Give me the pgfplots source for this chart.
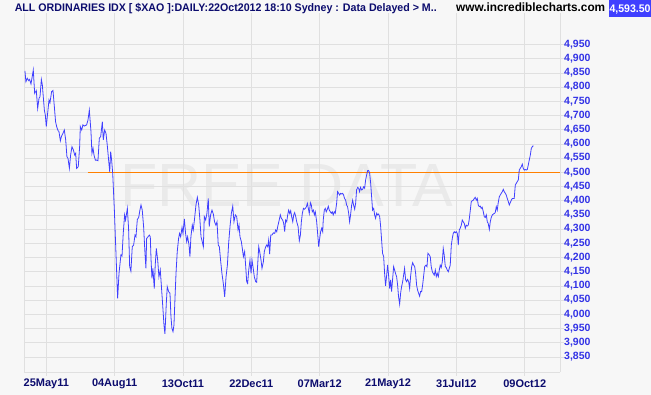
\documentclass[border=0pt]{standalone}
\usepackage{fontspec}
\setmainfont{Liberation Sans}
\usepackage{graphicx}
\usepackage{pgfplots}
\pgfplotsset{compat=1.18}

\definecolor{bg}{RGB}{247,247,247}
\definecolor{gridc}{RGB}{224,224,224}
\definecolor{navy}{RGB}{12,12,110}
\definecolor{ylab}{RGB}{50,50,230}
\definecolor{linec}{RGB}{64,64,255}
\definecolor{orangec}{RGB}{255,128,0}
\definecolor{boxc}{RGB}{64,64,255}
\definecolor{wm}{RGB}{234,234,234}

\begin{document}
\begin{tikzpicture}[x=1pt,y=1pt]
\fill[bg] (0,0) rectangle (651,395);
\useasboundingbox (0,0) rectangle (651,395);
\node[anchor=base west, inner sep=0, text=navy, font=\bfseries\fontsize{11}{13}\selectfont] at (14.6,383)
  {\resizebox{422pt}{\height}{ALL ORDINARIES IDX [ \$XAO ]:DAILY:22Oct2012 18:10 Sydney : Data Delayed > M..}};
\node[anchor=base west, inner sep=0, text=black, font=\bfseries\fontsize{12}{14}\selectfont] at (456,383)
  {\resizebox{149pt}{\height}{www.incrediblecharts.com}};
\fill[boxc] (608.5,377.5) rectangle (651,395);
\node[anchor=base, inner sep=0, text=white, font=\bfseries\fontsize{11}{13}\selectfont] at (630,382)
  {\resizebox{41pt}{\height}{4,593.50}};
\node[anchor=base west, inner sep=0, text=wm, font=\fontsize{61}{61}\selectfont] at (120,188.3) {FREE DATA};
\begin{axis}[
  at={(24pt,23pt)}, anchor=south west,
  scale only axis, width=536pt, height=359pt,
  xmin=-16.3, xmax=375.8, ymin=3797, ymax=5061,
  axis x line=bottom, axis y line=box,
  axis line style={-, draw=gridc, line width=0.8pt},
  ytick pos=right,
  xtick={0,50,...,350},
  xticklabels={25May11,04Aug11,13Oct11,22Dec11,07Mar12,21May12,31Jul12,09Oct12},
  ytick={3850,3900,...,4950},
  /pgf/number format/1000 sep={,},
  /pgf/number format/assume math mode=true,
  grid=major,
  major grid style={draw=gridc, line width=0.8pt},
  tick style={draw=gridc, line width=0.8pt},
  tick align=outside, major tick length=4pt,
  xticklabel style={font=\bfseries\fontsize{11}{13}\selectfont, text=navy, anchor=center, inner sep=0pt, yshift=-8pt},
  yticklabel style={font=\bfseries\fontsize{10.5}{12}\selectfont, text=ylab, anchor=west, inner sep=0pt},
  clip=false,
]
\addplot[orangec, line width=1pt] coordinates {(30.2,4500) (375.8,4500)};
\addplot[linec, line width=0.8pt] coordinates {
(-15.6,4857) (-14.9,4819) (-13.9,4831) (-12.9,4823) (-12.2,4827) (-11.2,4811) (-10.5,4831) (-9.5,4860)
(-8.5,4778) (-7.8,4784) (-7.3,4788) (-6.3,4725) (-5.3,4761) (-4.6,4766) (-3.6,4827) (-2.9,4808)
(-1.4,4719) (-0.7,4702) (0,4661) (1.0,4708) (2.0,4755) (2.7,4745) (3.9,4784) (4.9,4788)
(5.9,4731) (6.8,4678) (7.6,4661) (8.6,4647) (9.3,4643) (10.3,4611) (11.2,4628) (12.0,4635)
(13.2,4649) (14.2,4614) (15.1,4555) (15.9,4549) (16.9,4514) (17.8,4561) (18.8,4590) (19.8,4579)
(20.8,4561) (21.5,4567) (22.2,4514) (23.4,4520) (24.4,4590) (24.9,4661) (25.9,4649) (26.8,4667)
(27.8,4663) (29.5,4667) (30.5,4684) (31.5,4719) (32.7,4643) (33.4,4567) (34.2,4585) (34.9,4561)
(35.9,4543) (36.8,4543) (37.8,4541) (38.8,4620) (39.8,4626) (41.0,4678) (41.7,4614) (42.7,4649)
(43.7,4637) (44.6,4596) (45.6,4543) (46.4,4502) (47.1,4573) (47.8,4543) (48.6,4496) (49.8,4367)
(52.2,4056) (53.2,4144) (54.6,4209) (55.4,4205) (56.3,4285) (57.3,4350) (58.0,4332) (59.3,4373)
(60.2,4303) (61.0,4168) (61.9,4152) (62.9,4238) (63.9,4244) (64.9,4279) (65.6,4273) (66.6,4334)
(67.6,4341) (68.5,4367) (69.3,4385) (70.2,4367) (71.2,4309) (72.2,4215) (72.9,4162) (73.4,4267)
(74.4,4273) (75.4,4279) (76.1,4273) (76.6,4197) (77.3,4127) (78.0,4162) (79.0,4091) (79.7,4174)
(80.5,4232) (81.5,4191) (82.4,4132) (83.4,4156) (84.4,4086) (85.4,4015) (86.1,3962) (86.8,3931)
(87.8,4039) (88.5,4097) (89.5,4080) (90.5,4074) (91.2,3992) (91.9,3951) (92.7,3939) (93.4,3962)
(94.1,4050) (94.9,4144) (95.8,4221) (96.8,4267) (97.5,4285) (98.3,4273) (99.3,4306) (100.0,4285)
(101.0,4336) (101.9,4285) (102.7,4256) (103.4,4273) (104.4,4244) (105.1,4203) (105.8,4273) (106.8,4314)
(107.5,4297) (108.5,4338) (109.5,4385) (110.5,4412) (111.5,4385) (112.4,4332) (113.2,4273) (114.1,4256)
(114.9,4238) (115.6,4344) (116.6,4332) (117.5,4355) (118.5,4408) (119.2,4309) (120.2,4350) (121.2,4367)
(122.2,4353) (123.1,4326) (124.1,4314) (124.9,4326) (125.8,4244) (126.6,4238) (127.5,4191) (128.5,4144)
(129.5,4109) (130.5,4062) (131.5,4132) (132.5,4174) (133.4,4250) (134.4,4309) (135.4,4356) (136.4,4381)
(137.3,4326) (138.3,4350) (139.3,4344) (140.3,4297) (141.0,4314) (141.7,4273) (142.7,4256) (143.4,4232)
(144.2,4203) (145.1,4221) (145.9,4168) (146.6,4115) (147.3,4109) (148.1,4156) (149.0,4191) (149.8,4144)
(150.5,4191) (151.2,4168) (152.2,4132) (153.2,4115) (153.9,4113) (154.7,4179) (155.4,4238) (156.1,4221)
(157.1,4191) (157.8,4162) (158.8,4185) (159.5,4221) (160.5,4238) (161.2,4244) (162.0,4238) (162.7,4262)
(163.4,4212) (164.2,4279) (165.1,4279) (166.1,4287) (167.1,4285) (167.8,4297) (168.6,4291) (169.3,4309)
(170.3,4330) (171.2,4350) (172.0,4338) (172.9,4332) (173.7,4320) (174.4,4291) (175.1,4332) (175.9,4326)
(176.6,4350) (177.3,4367) (178.1,4355) (178.8,4365) (179.5,4344) (180.3,4326) (181.0,4350) (181.7,4358)
(182.5,4344) (183.2,4326) (184.2,4309) (185.1,4259) (185.9,4279) (186.6,4326) (187.3,4355) (188.1,4373)
(188.8,4370) (189.5,4373) (190.3,4379) (191.0,4391) (191.7,4373) (192.4,4355) (193.2,4393) (193.9,4385)
(194.6,4361) (195.4,4367) (196.1,4350) (196.8,4361) (197.8,4326) (198.5,4285) (199.3,4238) (200.0,4267)
(200.7,4291) (201.5,4303) (202.2,4291) (202.6,4332) (203.4,4367) (204.1,4373) (204.8,4361) (205.6,4370)
(206.3,4381) (207.0,4367) (207.8,4361) (208.5,4356) (209.2,4361) (209.9,4350) (210.7,4361) (211.4,4356)
(212.4,4391) (213.1,4432) (213.9,4426) (214.6,4420) (215.3,4426) (216.0,4424) (216.8,4426) (217.5,4420)
(218.2,4408) (219.0,4402) (219.7,4385) (220.4,4379) (221.2,4356) (221.9,4326) (222.6,4350) (223.4,4385)
(224.1,4402) (224.8,4385) (225.6,4370) (226.3,4391) (227.0,4438) (227.8,4447) (228.5,4444) (229.2,4432)
(229.9,4447) (230.7,4438) (231.4,4440) (232.1,4449) (232.9,4444) (233.6,4473) (234.3,4490) (235.1,4506)
(235.8,4506) (236.5,4499) (237.3,4461) (238.0,4414) (238.7,4367) (239.5,4373) (240.2,4350) (240.9,4338)
(241.7,4356) (242.4,4350) (243.1,4353) (243.9,4344) (244.6,4309) (245.3,4262) (246.0,4215) (246.8,4203)
(247.5,4144) (248.2,4100) (249.0,4138) (249.7,4174) (250.4,4138) (251.2,4091) (251.9,4121) (252.6,4080)
(253.4,4127) (254.1,4168) (254.8,4156) (255.6,4142) (256.3,4132) (257.0,4103) (257.7,4062) (258.5,4036)
(259.2,4074) (259.9,4097) (260.7,4115) (261.4,4138) (262.1,4162) (262.9,4121) (263.6,4115) (264.3,4123)
(265.1,4115) (265.8,4091) (266.5,4133) (267.3,4168) (268.0,4182) (268.7,4174) (269.5,4168) (270.2,4144)
(270.9,4103) (271.6,4086) (272.4,4074) (273.1,4064) (273.8,4080) (274.6,4080) (275.3,4103) (276.0,4133)
(276.8,4168) (277.7,4173) (278.5,4168) (279.2,4215) (280.2,4209) (280.9,4203) (281.6,4168) (282.4,4150)
(283.1,4144) (283.8,4138) (284.6,4156) (285.3,4133) (286.0,4144) (286.8,4133) (287.5,4156) (288.2,4173)
(288.9,4165) (289.7,4185) (290.4,4232) (291.1,4209) (291.9,4168) (292.6,4165) (293.3,4156) (294.1,4150)
(294.8,4162) (295.5,4173) (296.3,4244) (297.0,4267) (297.7,4285) (298.5,4291) (299.2,4287) (299.9,4291)
(300.7,4285) (301.4,4244) (302.1,4297) (302.8,4303) (303.6,4314) (304.3,4332) (305.0,4326) (305.8,4320)
(306.5,4303) (307.2,4314) (308.0,4311) (308.7,4314) (309.4,4334) (310.2,4367) (310.9,4397) (311.6,4400)
(312.4,4402) (313.1,4408) (313.8,4412) (314.6,4402) (315.3,4408) (316.0,4385) (316.7,4379) (317.5,4381)
(318.2,4373) (318.9,4377) (319.7,4361) (320.4,4344) (321.1,4341) (321.9,4350) (322.6,4326) (323.3,4320)
(324.1,4299) (324.8,4326) (325.5,4341) (326.3,4350) (327.0,4353) (327.7,4355) (328.4,4358) (329.2,4379)
(329.9,4367) (330.6,4393) (331.4,4414) (332.1,4420) (332.8,4426) (333.6,4432) (334.3,4440) (335.0,4432)
(335.8,4426) (336.5,4420) (337.2,4408) (338.0,4397) (338.7,4385) (339.4,4393) (340.2,4402) (340.9,4408)
(341.6,4408) (342.3,4408) (343.1,4455) (343.8,4461) (344.5,4467) (345.3,4473) (346.0,4508) (346.7,4514)
(347.5,4520) (348.2,4529) (348.9,4514) (349.7,4508) (350.4,4510) (351.1,4508) (351.9,4510) (352.6,4526)
(353.3,4543) (354.1,4561) (354.8,4584) (355.5,4590) (356.3,4594)
};
\end{axis}
\end{tikzpicture}
\end{document}
